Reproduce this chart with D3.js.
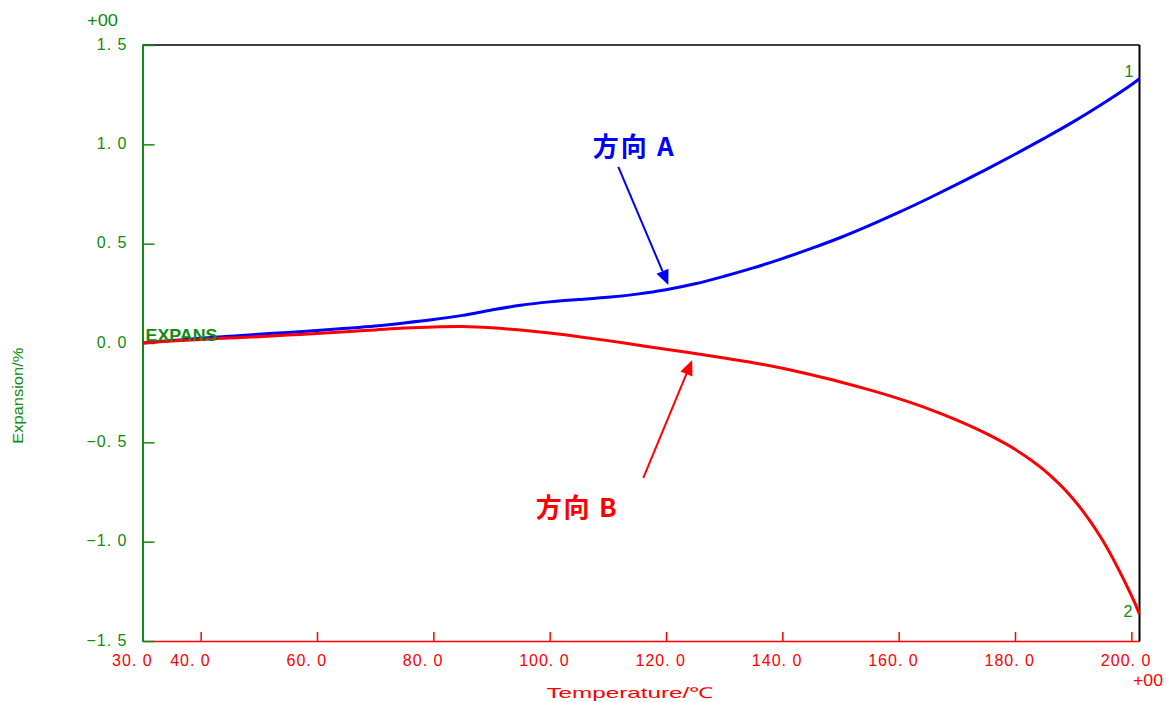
<!DOCTYPE html>
<html>
<head>
<meta charset="utf-8">
<script src="https://cdn.jsdelivr.net/npm/d3@7"></script>
<style>
  body { margin: 0; background: #ffffff; }
  svg { display: block; }
</style>
</head>
<body>
<svg id="chart" width="1167" height="702"></svg>
<script>
// Temperature (°C) at which expansion was sampled
const temperature = [30, 35, 40, 45, 50, 55, 60, 65, 70, 75, 80, 85, 90, 95, 100, 105, 110, 115, 120,
  125, 130, 135, 140, 145, 150, 155, 160, 165, 170, 175, 180, 185, 190, 195, 200, 201.4];

// Expansion (%) along direction A
const expansionA = [0.000, 0.012, 0.024, 0.034, 0.044, 0.053, 0.063, 0.074, 0.086, 0.101, 0.118, 0.139,
  0.166, 0.190, 0.207, 0.219, 0.230, 0.246, 0.268, 0.298, 0.336, 0.378, 0.425, 0.476, 0.531, 0.592,
  0.657, 0.726, 0.798, 0.873, 0.950, 1.030, 1.113, 1.203, 1.300, 1.330];

// Expansion (%) along direction B
const expansionB = [0.000, 0.010, 0.018, 0.025, 0.032, 0.040, 0.048, 0.057, 0.066, 0.075, 0.081, 0.083,
  0.077, 0.065, 0.050, 0.032, 0.012, -0.010, -0.032, -0.053, -0.075, -0.099, -0.127, -0.160, -0.196,
  -0.236, -0.280, -0.330, -0.388, -0.455, -0.535, -0.640, -0.785, -0.990, -1.270, -1.365];

const xTicks = [30, 40, 60, 80, 100, 120, 140, 160, 180, 200];
const xTickLabels = ["30. 0", "40. 0", "60. 0", "80. 0", "100. 0", "120. 0", "140. 0", "160. 0", "180. 0", "200. 0"];
const yTicks = [-1.5, -1.0, -0.5, 0.0, 0.5, 1.0, 1.5];
const yTickLabels = ["−1. 5", "−1. 0", "−0. 5", "0. 0", "0. 5", "1. 0", "1. 5"];

// Callouts: label anchor (t, v), arrow start and arrow tip, in data units
const callouts = [
  { text: "方向 A", color: "#0000ff", t: 107.4, v: 0.945, t0: 111.8, v0: 0.886, t1: 120.4, v1: 0.292 },
  { text: "方向 B", color: "#ff0000", t: 97.6, v: -0.872, t0: 116.1, v0: -0.679, t1: 124.5, v1: -0.086 }
];

const GREEN = "#108a10";
const RED = "#ff0000";
const BLUE = "#0000ff";
const FONT = "'Liberation Sans', Arial, sans-serif";

const svg = d3.select("#chart");

const x = d3.scaleLinear().domain([30, 201.4]).range([142.5, 1139.5]);
const y = d3.scaleLinear().domain([-1.5, 1.5]).range([641, 45]);

svg.append("defs").append("clipPath").attr("id", "plot-clip")
  .append("rect")
  .attr("x", x(30)).attr("y", y(1.5) - 2)
  .attr("width", x(201.4) - x(30) + 1).attr("height", y(-1.5) - y(1.5) + 4);

// Frame: top and right borders
svg.append("line")
  .attr("x1", x(30)).attr("x2", x(201.4))
  .attr("y1", y(1.5)).attr("y2", y(1.5))
  .attr("stroke", "#000").attr("stroke-width", 1.5);
svg.append("line")
  .attr("x1", x(201.4)).attr("x2", x(201.4))
  .attr("y1", y(1.5)).attr("y2", y(-1.5))
  .attr("stroke", "#000").attr("stroke-width", 2);

// Bottom (temperature) axis
const xAxis = svg.append("g")
  .attr("transform", `translate(0,${y(-1.5)})`)
  .call(d3.axisBottom(x).tickValues(xTicks).tickSize(-9).tickSizeOuter(0)
    .tickFormat((d, i) => xTickLabels[i]));
xAxis.select(".domain").attr("stroke", RED).attr("stroke-width", 1.5);
xAxis.selectAll(".tick line").attr("stroke", RED).attr("stroke-width", 1.5)
  .attr("display", d => d === 30 ? "none" : null);
xAxis.selectAll(".tick text")
  .attr("fill", RED).attr("font-family", FONT).attr("font-size", 16)
  .attr("letter-spacing", "1px")
  .attr("text-anchor", "start").attr("x", -31).attr("y", 25).attr("dy", null);

// Left (expansion) axis
const yAxis = svg.append("g")
  .attr("transform", `translate(${x(30)},0)`)
  .call(d3.axisLeft(y).tickValues(yTicks).tickSize(-12).tickSizeOuter(0).tickPadding(15)
    .tickFormat((d, i) => yTickLabels[i]));
yAxis.select(".domain").attr("stroke", GREEN).attr("stroke-width", 2);
yAxis.selectAll(".tick line").attr("stroke", GREEN).attr("stroke-width", 1.5);
yAxis.selectAll(".tick text")
  .attr("fill", GREEN).attr("font-family", FONT).attr("font-size", 16)
  .attr("letter-spacing", "1px")
  .attr("text-anchor", "end").attr("y", 4).attr("dy", null);

svg.selectAll("g").attr("font-family", FONT);

// Exponent markers
svg.append("text").attr("x", 87).attr("y", 26)
  .attr("fill", GREEN).attr("font-family", FONT).attr("font-size", 16)
  .attr("textLength", 31).attr("lengthAdjust", "spacingAndGlyphs").text("+00");
svg.append("text").attr("x", 1133).attr("y", 686)
  .attr("fill", RED).attr("font-family", FONT).attr("font-size", 16)
  .attr("textLength", 30).attr("lengthAdjust", "spacingAndGlyphs").text("+00");

// Axis titles
svg.append("text")
  .attr("transform", `translate(23,${(y(0) + y(-0.5)) / 2 + 3}) rotate(-90)`)
  .attr("text-anchor", "middle")
  .attr("fill", GREEN).attr("font-family", FONT).attr("font-size", 15)
  .attr("textLength", 96).attr("lengthAdjust", "spacingAndGlyphs")
  .text("Expansion/%");
svg.append("text")
  .attr("x", 630).attr("y", 698)
  .attr("text-anchor", "middle")
  .attr("fill", RED).attr("font-family", FONT).attr("font-size", 15)
  .attr("textLength", 167).attr("lengthAdjust", "spacingAndGlyphs")
  .text("Temperature/℃");

// Curves
const line = d3.line().curve(d3.curveCatmullRom.alpha(0.5));
const plot = svg.append("g").attr("clip-path", "url(#plot-clip)");
plot.append("path")
  .attr("d", line(temperature.map((t, i) => [x(t), y(expansionA[i])])))
  .attr("fill", "none").attr("stroke", BLUE).attr("stroke-width", 3);
plot.append("path")
  .attr("d", line(temperature.map((t, i) => [x(t), y(expansionB[i])])))
  .attr("fill", "none").attr("stroke", RED).attr("stroke-width", 3);

// Channel label and curve end numbers
svg.append("text")
  .attr("x", x(30) + 3).attr("y", y(0) - 2)
  .attr("fill", GREEN).attr("font-family", FONT).attr("font-size", 17).attr("font-weight", "bold")
  .attr("textLength", 72).attr("lengthAdjust", "spacingAndGlyphs")
  .text("EXPANS");
const last = temperature.length - 1;
svg.append("text")
  .attr("x", x(temperature[last]) - 15).attr("y", y(expansionA[last]) - 2)
  .attr("fill", GREEN).attr("font-family", FONT).attr("font-size", 16).text("1");
svg.append("text")
  .attr("x", x(temperature[last]) - 16).attr("y", y(expansionB[last]) + 3)
  .attr("fill", GREEN).attr("font-family", FONT).attr("font-size", 16).text("2");

// Callout labels with arrows
callouts.forEach(c => {
  const xs = x(c.t0), ys = y(c.v0), xe = x(c.t1), ye = y(c.v1);
  const len = Math.hypot(xe - xs, ye - ys);
  const ux = (xe - xs) / len, uy = (ye - ys) / len;
  const headL = 15, headW = 6.5;
  const bx = xe - ux * headL, by = ye - uy * headL;
  svg.append("line")
    .attr("x1", xs).attr("y1", ys).attr("x2", bx).attr("y2", by)
    .attr("stroke", c.color).attr("stroke-width", 2);
  svg.append("path")
    .attr("d", `M${xe},${ye}L${bx - uy * headW},${by + ux * headW}L${bx + uy * headW},${by - ux * headW}Z`)
    .attr("fill", c.color);
  svg.append("text")
    .attr("x", x(c.t)).attr("y", y(c.v) + 1)
    .attr("fill", c.color)
    .attr("font-family", "'Noto Sans CJK JP', 'Noto Sans', sans-serif")
    .attr("font-size", 26).attr("font-weight", "bold")
    .attr("textLength", 81).attr("lengthAdjust", "spacing")
    .text(c.text);
});
</script>
</body>
</html>
